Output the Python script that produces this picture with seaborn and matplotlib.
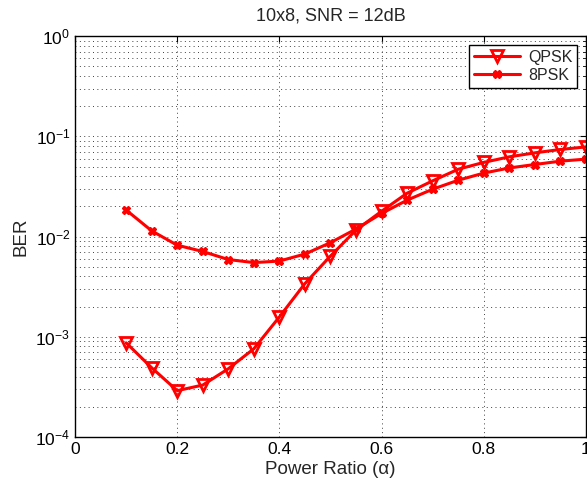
import numpy as np
import pandas as pd
import matplotlib
matplotlib.use("Agg")
import matplotlib.pyplot as plt
import seaborn as sns
from matplotlib.ticker import LogLocator, NullFormatter, FixedLocator

alpha = [0.10, 0.15, 0.20, 0.25, 0.30, 0.35, 0.40, 0.45, 0.50, 0.55,
         0.60, 0.65, 0.70, 0.75, 0.80, 0.85, 0.90, 0.95, 1.00]
ber_qpsk = [8.7e-4, 4.9e-4, 2.9e-4, 3.3e-4, 4.8e-4, 7.6e-4, 1.58e-3, 3.4e-3, 6.4e-3, 1.16e-2,
            1.79e-2, 2.71e-2, 3.6e-2, 4.7e-2, 5.5e-2, 6.25e-2, 6.85e-2, 7.4e-2, 7.85e-2]
ber_8psk = [1.84e-2, 1.14e-2, 8.2e-3, 7.1e-3, 5.9e-3, 5.5e-3, 5.7e-3, 6.7e-3, 8.7e-3, 1.19e-2,
            1.7e-2, 2.31e-2, 2.97e-2, 3.65e-2, 4.3e-2, 4.84e-2, 5.24e-2, 5.66e-2, 5.93e-2]
series_names = ["QPSK", "8PSK"]
x_ticks = [0, 0.2, 0.4, 0.6, 0.8, 1]
x_tick_labels = ["0", "0.2", "0.4", "0.6", "0.8", "1"]

sns.set_style("white")
plt.rcParams['font.family'] = ['Liberation Sans', 'DejaVu Sans']
plt.rcParams['mathtext.fontset'] = 'custom'
plt.rcParams['mathtext.rm'] = 'Liberation Sans'
plt.rcParams['mathtext.it'] = 'Liberation Sans:italic'

df = pd.DataFrame({
    "alpha": alpha * 2,
    "BER": ber_qpsk + ber_8psk,
    "mod": [series_names[0]] * len(alpha) + [series_names[1]] * len(alpha),
})

fig = plt.figure(figsize=(5.87, 4.87), dpi=100)
ax = fig.add_axes([0.128, 0.1027, 0.870, 0.823])

sns.lineplot(data=df[df["mod"] == "QPSK"], x="alpha", y="BER", ax=ax, color="red",
             linewidth=2.2, marker="v", markersize=8.5, markerfacecolor="none",
             markeredgecolor="red", markeredgewidth=2, label="QPSK")
sns.lineplot(data=df[df["mod"] == "8PSK"], x="alpha", y="BER", ax=ax, color="red",
             linewidth=2.2, marker="X", markersize=6, markerfacecolor="red",
             markeredgecolor="red", markeredgewidth=1, label="8PSK")

ax.set_yscale("log")
ax.set_xlim(0, 1)
ax.set_ylim(1e-4, 1)
ax.xaxis.set_major_locator(FixedLocator(x_ticks))
ax.set_xticklabels(x_tick_labels)
ax.yaxis.set_major_locator(LogLocator(base=10, numticks=10))
ax.yaxis.set_minor_locator(LogLocator(base=10, subs=np.arange(2, 10), numticks=20))
ax.yaxis.set_minor_formatter(NullFormatter())

ax.grid(True, which="major", linestyle=(0, (1, 3.5)), color="0.25", linewidth=0.7)
ax.grid(True, which="minor", axis="y", linestyle=(0, (1, 3.5)), color="0.25", linewidth=0.7)
ax.set_axisbelow(True)

for s in ax.spines.values():
    s.set_visible(True)
    s.set_color("black")
    s.set_linewidth(1.0)

ax.tick_params(which="both", direction="in", top=True, right=True, labelsize=12.5,
               colors="black")
ax.tick_params(which="major", length=4)
ax.tick_params(which="minor", length=2)

ax.set_xlabel("Power Ratio (α)", fontsize=13.5, labelpad=3)
ax.set_ylabel("BER", fontsize=13.5)
ax.set_title("10x8, SNR = 12dB", fontsize=13, pad=11)

leg = ax.legend(loc="upper right", fontsize=11.5, frameon=True, fancybox=False,
                edgecolor="black", framealpha=1, borderaxespad=0.55,
                handlelength=2.9, borderpad=0.3, labelspacing=0.2, handletextpad=0.5)
leg.get_frame().set_linewidth(1.0)

fig.savefig("out.png", dpi=100)
